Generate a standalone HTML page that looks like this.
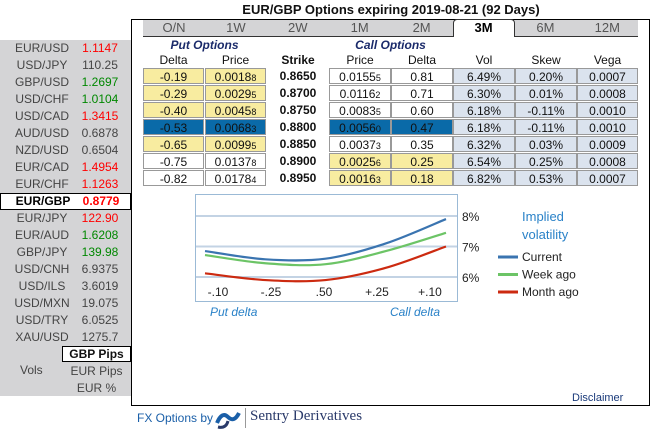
<!DOCTYPE html>
<html><head><meta charset="utf-8"><style>
body{margin:0;width:652px;height:429px;background:#fff;font-family:"Liberation Sans",sans-serif;position:relative;overflow:hidden;color:#111}
.a{position:absolute}
.lp{position:absolute;left:0;top:40px;width:131px;height:356px;background:#d4d4d6}
.pr{position:absolute;left:0;width:131px;height:17px;font-size:12px;color:#444;line-height:17px}
.pr span{position:absolute}
.tab{position:absolute;top:20px;height:16px;width:62px;text-align:center;font-size:13px;color:#555;line-height:16px}
.c{position:absolute;height:16px;line-height:16px;font-size:12px;text-align:center;box-sizing:border-box;border:1px solid #999}
.h{position:absolute;font-size:12px;text-align:center}
small{font-size:9px}
</style></head><body>
<div class="a" style="left:131px;width:520px;top:2px;text-align:center;font-weight:bold;font-size:13px">EUR/GBP Options expiring 2019-08-21 (92 Days)</div>
<div class="lp"></div>
<div id="pairs"></div>
<div class="a" style="left:131px;top:19px;width:517px;height:385px;border:1.5px solid #000"></div>
<div class="a" style="left:143px;top:20px;width:495px;height:16px;background:#d4d4d6;border-bottom:1px solid #333"></div>
<div id="tabs"></div>
<div class="h" style="left:143px;width:123px;top:38px;font-weight:bold;font-style:italic;color:#1a2a6a">Put Options</div>
<div class="h" style="left:329px;width:123px;top:38px;font-weight:bold;font-style:italic;color:#1a2a6a">Call Options</div>
<div id="hdrs"></div>
<div id="rows"></div>
<svg class="a" style="left:0;top:0" width="652" height="429" id="chart"></svg>
<div class="a" style="left:572px;top:392px;font-size:11px;color:#1a3a7a">Disclaimer</div>
<div class="a" style="left:137px;top:411px;font-size:12px;color:#1a5fa8">FX Options by</div>
<svg class="a" style="left:214px;top:407px" width="28" height="22"><path d="M3 16 Q8 4 14 10 Q20 16 25 6" stroke="#1a5fa8" stroke-width="4" fill="none"/><path d="M4 20 Q12 22 14 14" stroke="#2a3a6a" stroke-width="3" fill="none"/></svg>
<div class="a" style="left:245px;top:408px;width:1px;height:20px;background:#999"></div>
<div class="a" style="left:250px;top:408px;font-size:15px;font-family:'Liberation Serif',serif;color:#2a3a6a">Sentry Derivatives</div>
<script>
const pairNames=["EUR/USD","USD/JPY","GBP/USD","USD/CHF","USD/CAD","AUD/USD","NZD/USD","EUR/CAD","EUR/CHF","EUR/GBP","EUR/JPY","EUR/AUD","GBP/JPY","USD/CNH","USD/ILS","USD/MXN","USD/TRY","XAU/USD"];
const pairVals=["1.1147","110.25","1.2697","1.0104","1.3415","0.6878","0.6504","1.4954","1.1263","0.8779","122.90","1.6208","139.98","6.9375","3.6019","19.075","6.0525","1275.7"];
const pairCols=["#f00","#444","#080","#080","#f00","#444","#444","#f00","#f00","#f00","#f00","#080","#080","#444","#444","#444","#444","#444"];
let P=document.getElementById('pairs');
pairNames.forEach((n,i)=>{let d=document.createElement('div');d.className='pr';d.style.top=(40+i*17)+'px';


if(i==9){d.style.background='#fff';d.style.border='1px solid #000';d.style.boxSizing='border-box';d.style.fontWeight='bold';d.style.color='#000';d.style.lineHeight='15px';}
d.innerHTML='<span style="left:0;width:84px;text-align:center">'+n+'</span><span style="left:80px;width:40px;text-align:center;color:'+pairCols[i]+'">'+pairVals[i]+'</span>';P.appendChild(d);});
P.insertAdjacentHTML('beforeend','<div class="a" style="left:62px;top:346px;width:69px;height:16px;box-sizing:border-box;border:1px solid #000;background:#fff;font-weight:bold;font-size:12px;text-align:center;line-height:15px">GBP Pips</div><div class="a" style="left:20px;top:363px;font-size:12px;color:#444">Vols</div><div class="a" style="left:62px;width:69px;text-align:center;top:364px;font-size:12px;color:#444">EUR Pips</div><div class="a" style="left:62px;width:69px;text-align:center;top:381px;font-size:12px;color:#444">EUR %</div>');
const tabs=["O/N","1W","2W","1M","2M","3M","6M","12M"];
let T=document.getElementById('tabs');
tabs.forEach((t,i)=>{let d=document.createElement('div');d.className='tab';d.style.left=(143+i*61.9)+'px';d.textContent=t;


if(t=='3M'){d.style.background='#fff';d.style.border='1px solid #333';d.style.borderBottom='none';d.style.borderRadius='4px 4px 0 0';d.style.top='19px';d.style.height='18px';d.style.fontWeight='bold';d.style.color='#000';d.style.boxSizing='border-box';}
T.appendChild(d);});
const cols=[[143,61],[205,61],[267,62],[329,62],[391,62],[453,62],[515,62],[577,61]];
const hdr=["Delta","Price","Strike","Price","Delta","Vol","Skew","Vega"];
let H=document.getElementById('hdrs');
hdr.forEach((h,i)=>{let d=document.createElement('div');d.className='h';d.style.left=cols[i][0]+'px';d.style.width=cols[i][1]+'px';d.style.top='53px';d.textContent=h;if(i==2)d.style.fontWeight='bold';

H.appendChild(d);});
const putDelta=["-0.19","-0.29","-0.40","-0.53","-0.65","-0.75","-0.82"];
const putPrice=["0.0018|8","0.0029|5","0.0045|8","0.0068|3","0.0099|5","0.0137|8","0.0178|4"];
const strikes=["0.8650","0.8700","0.8750","0.8800","0.8850","0.8900","0.8950"];
const callPrice=["0.0155|5","0.0116|2","0.0083|5","0.0056|0","0.0037|3","0.0025|6","0.0016|3"];
const callDelta=["0.81","0.71","0.60","0.47","0.35","0.25","0.18"];
const vols=["6.49%","6.30%","6.18%","6.18%","6.32%","6.54%","6.82%"];
const skews=["0.20%","0.01%","-0.11%","-0.11%","0.03%","0.25%","0.53%"];
const vegas=["0.0007","0.0008","0.0010","0.0010","0.0009","0.0008","0.0007"];
let R=document.getElementById('rows');
function fmt(s){let p=s.split('|');return p[0]+'<small>'+p[1]+'</small>';}
for(let r=0;r<7;r++){const y=68+r*17;
const vals=[putDelta[r],fmt(putPrice[r]),strikes[r],fmt(callPrice[r]),callDelta[r],vols[r],skews[r],vegas[r]];
vals.forEach((v,i)=>{let d=document.createElement('div');d.className='c';d.style.left=cols[i][0]+'px';d.style.width=cols[i][1]+'px';d.style.top=y+'px';d.innerHTML=v;
let bg='#fff';
if(i<2)bg=(r<5)?'#f8eca0':'#fff';
if(i==3||i==4)bg=(r>4)?'#f8eca0':'#fff';
if(i>=5)bg='#dbe3ee';
if(r==3&&i<5&&i!=2)bg='#0a6aa8';
if(i==2){d.style.border='none';d.style.fontWeight='bold';bg='transparent';}
d.style.background=bg;


R.appendChild(d);});}
// chart
const deltaLabels=["-.10","-.25",".50","+.25","+.10"];
const yTicks=[8,7,6];
const current=[6.85,6.58,6.6,7.1,7.9];
const weekAgo=[6.72,6.45,6.42,6.85,7.45];
const monthAgo=[6.12,5.9,5.9,6.3,7.0];
const S=document.getElementById('chart');const ns='http://www.w3.org/2000/svg';
const xs=i=>205+i*60.25, ys=v=>246.5-(v-7)*30.5;
function el(t,a,txt){let e=document.createElementNS(ns,t);for(let k in a)e.setAttribute(k,a[k]);if(txt)e.textContent=txt;S.appendChild(e);return e;}
let b=el('rect',{x:195.5,y:194.5,width:262,height:107,fill:'#fff',stroke:'#9bbad6'});


yTicks.forEach(v=>{let l=el('line',{x1:196,x2:457,y1:ys(v),y2:ys(v),stroke:'#c3d3e4','stroke-width':2});


let t=el('text',{x:462,y:ys(v)+5,'font-size':12,fill:'#222'},v+'%');

});
deltaLabels.forEach((s,i)=>{let t=el('text',{x:218+i*53,y:296,'font-size':12,fill:'#222','text-anchor':'middle'},s);

});
function path(d){let p=d.map((v,i)=>[xs(i),ys(v)]);let s='M'+p[0][0]+' '+p[0][1];
for(let i=0;i<p.length-1;i++){let p0=p[i-1]||p[i],p1=p[i],p2=p[i+1],p3=p[i+2]||p2;
s+=` C${p1[0]+(p2[0]-p0[0])/6} ${p1[1]+(p2[1]-p0[1])/6} ${p2[0]-(p3[0]-p1[0])/6} ${p2[1]-(p3[1]-p1[1])/6} ${p2[0]} ${p2[1]}`;}return s;}
[[monthAgo,'#cc2a10','line-month-ago'],[weekAgo,'#6cc466','line-week-ago'],[current,'#3a74b0','line-current']].forEach(([d,c,n])=>{
let p=el('path',{d:path(d),stroke:c,'stroke-width':2.2,fill:'none'});

});
let lt=el('text',{x:522,y:221,'font-size':13,fill:'#2a82c8'},'Implied');


el('text',{x:522,y:239,'font-size':13,fill:'#2a82c8'},'volatility');
[['Current','#3a74b0'],['Week ago','#6cc466'],['Month ago','#cc2a10']].forEach(([n,c],i)=>{
let y=257+i*17.5;let l=el('line',{x1:498,x2:518,y1:y,y2:y,stroke:c,'stroke-width':3});


let t=el('text',{x:522,y:y+4,'font-size':12,fill:'#222'},n);

});
let pd=el('text',{x:210,y:316,'font-size':12,'font-style':'italic',fill:'#2a82c8'},'Put delta');


let cd=el('text',{x:440,y:316,'font-size':12,'font-style':'italic',fill:'#2a82c8','text-anchor':'end'},'Call delta');


</script>
</body></html>
